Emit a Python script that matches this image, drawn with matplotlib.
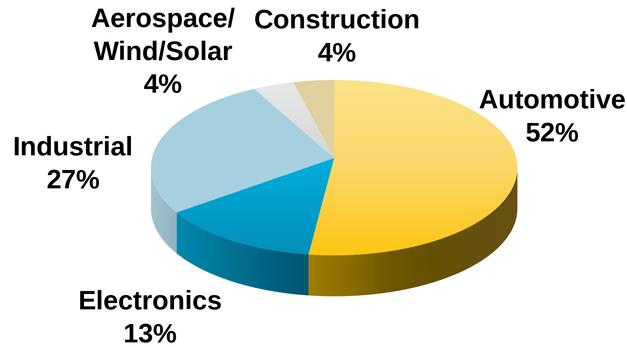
import io
import numpy as np
import matplotlib
matplotlib.use("Agg")
import matplotlib.pyplot as plt
from matplotlib.colors import LinearSegmentedColormap
from matplotlib.patches import Polygon
from PIL import Image

categories = ["Automotive", "Electronics", "Industrial", "Aerospace/\nWind/Solar", "Construction"]
shares = [52, 13, 27, 4, 4]

# Colour ramps: top faces run top-to-bottom, side walls run left-to-right
top_ramps = [
    ["#FBE288", "#FCD76A", "#FDC60F"],
    ["#00AEDC", "#008FB8"],
    ["#A6D0DF", "#A6D0DF"],
    ["#E8E8E8", "#D6D6D6"],
    ["#E0D09E", "#E0D09E"],
]
side_ramps = [
    ["#A07D00", "#8A6C00", "#6E5704", "#655000", "#655010", "#655214"],
    ["#0089AE", "#006D8E", "#005470"],
    ["#A3C4D0", "#90B2C0"],
    ["#D0D0D0", "#D0D0D0"],
    ["#C0B080", "#C0B080"],
]
label_pos = [(552, 118), (150, 319), (73, 165), (163, 53), (337, 38)]
label_text = [f"{c}\n{s}%" for c, s in zip(categories, shares)]

# Perspective disc geometry, in pixel-like axes units
cx, cy = 334, 158
rx, ry = 182, 86.6
persp = 0.11
depth = 41


def rim(theta):
    w = 1 + persp * np.cos(theta)
    return cx + rx * np.sin(theta) / w, cy - ry * np.cos(theta) / w


def gradient(ax, ramp, poly, vertical):
    xy = np.asarray(poly)
    x0, x1 = xy[:, 0].min() - 1, xy[:, 0].max() + 1
    y0, y1 = xy[:, 1].min() - 1, xy[:, 1].max() + 1
    ramp_map = LinearSegmentedColormap.from_list("ramp", ramp)
    t = np.linspace(0, 1, 256)
    data = t[:, None] if vertical else t[None, :]
    im = ax.imshow(data, cmap=ramp_map, vmin=0, vmax=1, aspect="auto", origin="upper",
                   extent=(x0, x1, y1, y0), interpolation="bilinear", zorder=2)
    patch = Polygon(xy, closed=True, transform=ax.transData, facecolor="none", edgecolor="none")
    ax.add_patch(patch)
    im.set_clip_path(patch)


fig = plt.figure(figsize=(6.27, 3.47), dpi=100)
ax = fig.add_axes([0, 0, 1, 1])

edges = 2 * np.pi * np.concatenate([[0], np.cumsum(shares)]) / np.sum(shares)
front_a, front_b = np.pi - np.arccos(persp), np.pi + np.arccos(persp)

# Side walls first, only along the silhouette facing the viewer
for i in range(len(shares)):
    a, b = max(edges[i], front_a), min(edges[i + 1], front_b)
    if a >= b:
        continue
    th = np.linspace(a, b, 200)
    x, y = rim(th)
    poly = np.vstack([np.c_[x, y], np.c_[x[::-1], y[::-1] + depth]])
    gradient(ax, side_ramps[i], poly, vertical=False)

# Top faces
for i in range(len(shares)):
    th = np.linspace(edges[i], edges[i + 1], 300)
    x, y = rim(th)
    poly = np.vstack([[cx, cy], np.c_[x, y]])
    gradient(ax, top_ramps[i], poly, vertical=True)

for (lx, ly), txt in zip(label_pos, label_text):
    ax.text(lx, ly, txt, ha="center", va="center", family="Liberation Sans", weight="bold",
            fontsize=19.2, color="black", linespacing=1.4, zorder=5)

ax.set_xlim(0, 627)
ax.set_ylim(347, 0)
ax.axis("off")

# Render large and reduce, which smooths the clipped wedge edges
buf = io.BytesIO()
fig.savefig(buf, format="png", dpi=300, facecolor="white")
buf.seek(0)
Image.open(buf).convert("RGB").resize((627, 347), Image.LANCZOS).save("out.png")
